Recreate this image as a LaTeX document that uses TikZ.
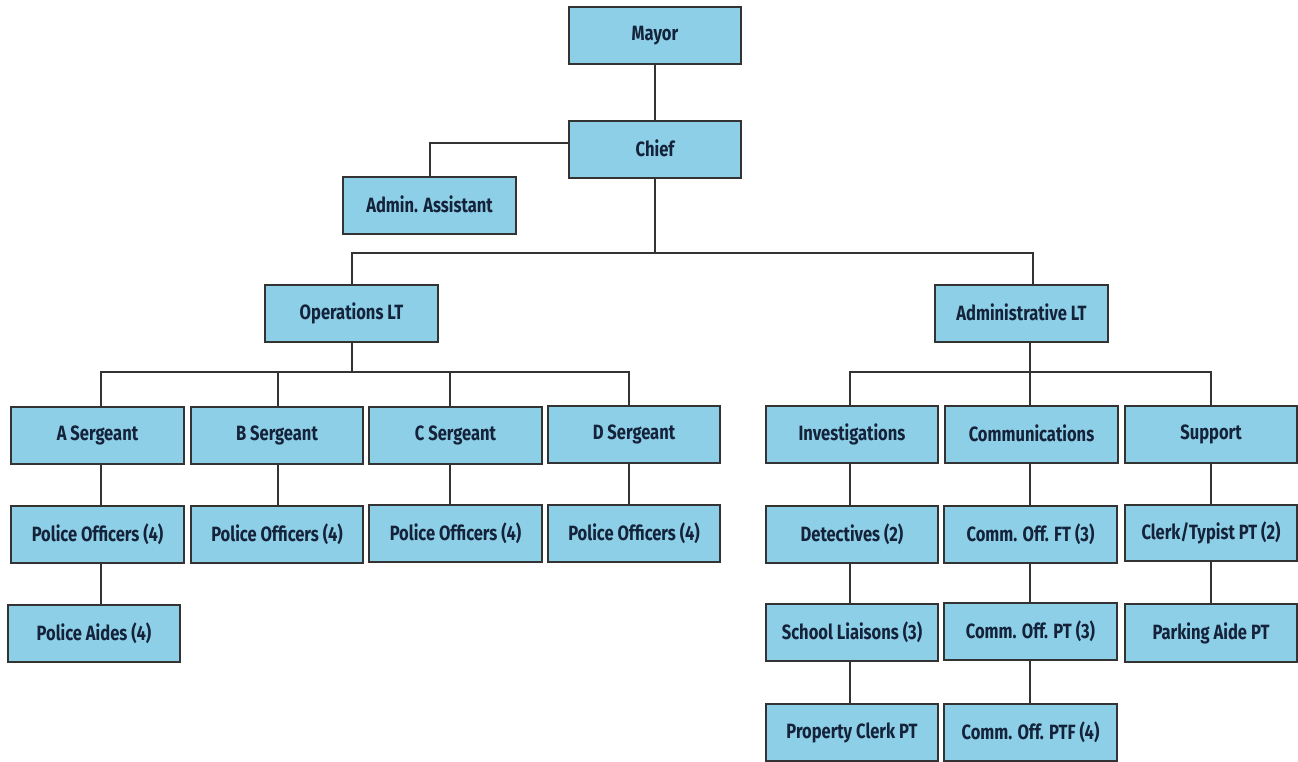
\documentclass[tikz,border=0pt]{standalone}
\usepackage{fontspec}
\setmainfont[FakeStretch=0.8]{Fira Sans}
\begin{document}
\begin{tikzpicture}[x=0.75pt,y=-0.75pt,
  box/.style={draw=black!80, line width=1.4pt, fill=boxblue, text=inkblue,
    font=\bfseries\fontsize{15.5}{17}\selectfont, inner sep=0pt, anchor=center},
  link/.style={draw=black!80, line width=1.1pt}]
\definecolor{boxblue}{HTML}{8ECFE8}
\definecolor{inkblue}{HTML}{14233A}
\useasboundingbox (0,0) rectangle (1298,761);
\newcommand\bx[6]{\node[box, minimum width={(#4-#2)*0.75pt}, minimum height={(#5-#3)*0.75pt}]
  (#1) at ({(#2+#4)/2},{(#3+#5)/2}) {\raisebox{2pt}{#6}};}
% boxes
\bx{mayor}{569}{7}{741}{64}{Mayor}
\bx{chief}{569}{121}{741}{178}{Chief}
\bx{asst}{343}{177}{516}{234}{Admin. Assistant}
\bx{ops}{265}{285}{438}{342}{Operations LT}
\bx{adm}{935}{285}{1108}{342}{Administrative LT}
\bx{sa}{11}{407}{184}{464}{A Sergeant}
\bx{sb}{191}{407}{363}{464}{B Sergeant}
\bx{sc}{369}{407}{542}{464}{C Sergeant}
\bx{sd}{548}{406}{720}{463}{D Sergeant}
\bx{pa}{11}{506}{184}{563}{Police Officers (4)}
\bx{pb}{191}{506}{363}{563}{Police Officers (4)}
\bx{pc}{369}{505}{542}{562}{Police Officers (4)}
\bx{pd}{548}{505}{720}{562}{Police Officers (4)}
\bx{aides}{8}{605}{180}{662}{Police Aides (4)}
\bx{inv}{766}{406}{938}{463}{Investigations}
\bx{com}{945}{406}{1118}{463}{Communications}
\bx{sup}{1125}{406}{1297}{463}{Support}
\bx{det}{766}{506}{938}{563}{Detectives (2)}
\bx{cft}{944}{506}{1117}{563}{Comm. Off. FT (3)}
\bx{clerk}{1125}{505}{1297}{561}{Clerk/Typist PT (2)}
\bx{school}{766}{604}{938}{661}{School Liaisons (3)}
\bx{cpt}{944}{603}{1117}{660}{Comm. Off. PT (3)}
\bx{park}{1125}{604}{1297}{662}{Parking Aide PT}
\bx{prop}{766}{704}{938}{761}{Property Clerk PT}
\bx{cptf}{944}{704}{1117}{761}{Comm. Off. PTF (4)}
% helper coordinates
\coordinate (x655) at (655,0);
\coordinate (x430) at (430,0);
\coordinate (x352) at (352,0);
\coordinate (x1033) at (1033,0);
\coordinate (x1030) at (1030,0);
\coordinate (x101) at (101,0);
\coordinate (x278) at (278,0);
\coordinate (x450) at (450,0);
\coordinate (x629) at (629,0);
\coordinate (x850) at (850,0);
\coordinate (x1211) at (1211,0);
\coordinate (busA) at (655,253);
\coordinate (busB) at (352,372);
\coordinate (busC) at (1030,372);
\coordinate (yc) at (0,143);
% connectors
\draw[link] (mayor.south -| x655) -- (chief.north -| x655);
\draw[link] (chief.west |- yc) -| (asst.north -| x430);
\draw[link] (chief.south -| x655) -- (busA);
\draw[link] (ops.north -| x352) |- (busA) -| (adm.north -| x1033);
\draw[link] (ops.south -| x352) -- (busB);
\draw[link] (sa.north -| x101) |- (busB) -| (sd.north -| x629);
\draw[link] (sb.north -| x278) -- (busB -| x278);
\draw[link] (sc.north -| x450) -- (busB -| x450);
\draw[link] (sa.south -| x101) -- (pa.north -| x101);
\draw[link] (sb.south -| x278) -- (pb.north -| x278);
\draw[link] (sc.south -| x450) -- (pc.north -| x450);
\draw[link] (sd.south -| x629) -- (pd.north -| x629);
\draw[link] (pa.south -| x101) -- (aides.north -| x101);
\draw[link] (adm.south -| x1030) -- (busC);
\draw[link] (inv.north -| x850) |- (busC) -| (sup.north -| x1211);
\draw[link] (com.north -| x1030) -- (busC);
\draw[link] (inv.south -| x850) -- (det.north -| x850);
\draw[link] (det.south -| x850) -- (school.north -| x850);
\draw[link] (school.south -| x850) -- (prop.north -| x850);
\draw[link] (com.south -| x1030) -- (cft.north -| x1030);
\draw[link] (cft.south -| x1030) -- (cpt.north -| x1030);
\draw[link] (cpt.south -| x1030) -- (cptf.north -| x1030);
\draw[link] (sup.south -| x1211) -- (clerk.north -| x1211);
\draw[link] (clerk.south -| x1211) -- (park.north -| x1211);
\end{tikzpicture}
\end{document}
